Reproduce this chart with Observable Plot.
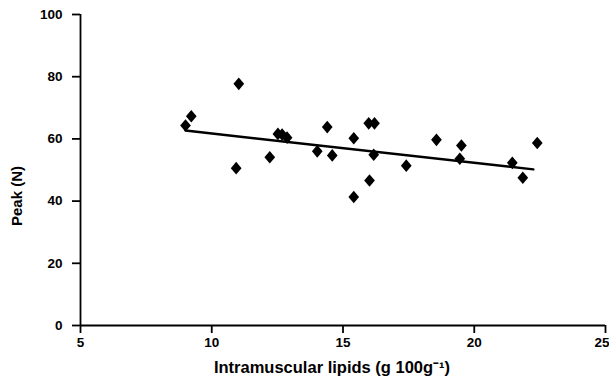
<!DOCTYPE html>
<html>
<head>
<meta charset="utf-8">
<script src="https://cdn.jsdelivr.net/npm/d3@7"></script>
<script src="https://cdn.jsdelivr.net/npm/@observablehq/plot@0.6"></script>
<style>
  html, body { margin: 0; padding: 0; background: #fff; }
  #chart svg { display: block; }
</style>
</head>
<body>
<div id="chart"></div>
<script>
// Intramuscular lipids (g 100g-1)
const lipids = [9.0, 9.22, 11.03, 10.93, 12.21, 12.52, 12.68, 12.87, 14.02, 14.40, 14.59, 15.41,
                15.41, 15.98, 16.20, 16.17, 16.01, 17.41, 18.56, 19.51, 19.45, 21.45, 21.85, 22.40];
// Peak force (N)
const peak = [64.3, 67.3, 77.7, 50.6, 54.1, 61.6, 61.4, 60.4, 56.0, 63.8, 54.7, 60.2,
              41.3, 65.0, 65.0, 54.9, 46.6, 51.4, 59.7, 57.9, 53.6, 52.3, 47.5, 58.7];
// fitted trend line endpoints
const trendX = [9.0, 22.25];
const trendY = [62.7, 50.2];

const xTicks = [5, 10, 15, 20, 25];
const yTicks = [0, 20, 40, 60, 80, 100];
const xTitle = "Intramuscular lipids (g 100g\u207B\u00B9)";
const yTitle = "Peak (N)";

const points = lipids.map((x, i) => ({x, y: peak[i]}));
const trend = trendX.map((x, i) => ({x, y: trendY[i]}));
const xInner = xTicks.slice(0, -1);
const xLast = xTicks.slice(-1);

const diamond = {
  draw(context, size) {
    const r = Math.sqrt(size / Math.PI);
    const w = r * 0.85;
    context.moveTo(0, -r);
    context.lineTo(w, 0);
    context.lineTo(0, r);
    context.lineTo(-w, 0);
    context.closePath();
  }
};

const font = "Liberation Sans, Arial, sans-serif";

const chart = Plot.plot({
  width: 609,
  height: 383,
  marginLeft: 80,
  marginRight: 4,
  marginTop: 14,
  marginBottom: 58,
  style: {fontFamily: font, background: "#fff", color: "#000"},
  x: {domain: [5, 25]},
  y: {domain: [0, 100]},
  marks: [
    Plot.axisY({ticks: yTicks, tickSize: 8, tickPadding: 10, fontSize: 13.5, fontWeight: "bold",
                label: null, strokeWidth: 1.8}),
    Plot.axisX({ticks: xTicks, tickSize: 8, text: null, label: null, strokeWidth: 1.8}),
    Plot.text(xInner, {x: d => d, frameAnchor: "bottom", dy: 21, fontSize: 13.5, fontWeight: "bold", fill: "#000"}),
    Plot.text(xLast, {x: d => d, frameAnchor: "bottom", dy: 21, dx: 4, textAnchor: "end", fontSize: 13.5, fontWeight: "bold", fill: "#000"}),
    Plot.ruleX([5], {strokeWidth: 1.8}),
    Plot.ruleY([0], {strokeWidth: 1.8}),
    Plot.line(trend, {x: "x", y: "y", stroke: "#000", strokeWidth: 2.5}),
    Plot.dot(points, {x: "x", y: "y", symbol: diamond, r: 6.3, fill: "#000", stroke: "none"}),
    Plot.text([xTitle], {frameAnchor: "bottom", dy: 47, dx: -11, fontSize: 16.5, fontWeight: "bold", fill: "#000"}),
    Plot.text([yTitle], {frameAnchor: "left", textAnchor: "middle", rotate: -90, dx: -63, dy: 26,
                         fontSize: 15, fontWeight: "bold", fill: "#000"})
  ]
});
document.getElementById("chart").appendChild(chart);
</script>
</body>
</html>
